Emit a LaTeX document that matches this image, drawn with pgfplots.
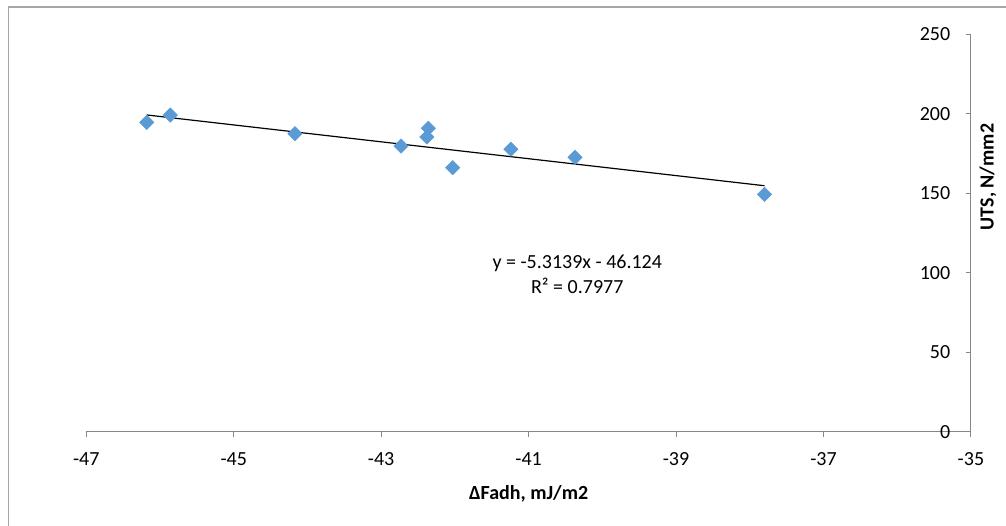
\documentclass[border=0pt]{standalone}
\usepackage{pgfplots}
\pgfplotsset{compat=1.18}
\usepackage{fontspec}
\setmainfont{Carlito}
\newcommand\ff{\fontsize{15}{18.75}\selectfont}
\definecolor{ptblue}{HTML}{5B9BD5}
\definecolor{axgray}{HTML}{868686}
\definecolor{bordgray}{HTML}{A6A6A6}
\pgfplotstableread{
x y
-46.18 194.6
-45.86 199.2
-44.17 187.5
-42.73 179.7
-42.36 190.9
-42.38 185.4
-42.03 166.1
-41.24 177.7
-40.37 172.6
-37.80 149.3
}\datatable
\begin{document}
\begin{tikzpicture}
\useasboundingbox (0,0) rectangle (754.5pt,393.75pt);
\draw[bordgray, line width=1.1pt] (6.4pt,-1pt) -- (6.4pt,388.5pt) -- (756pt,388.5pt);
\begin{axis}[
  at={(64.7pt,70pt)}, anchor=south west,
  scale only axis, width=663.5pt, height=298pt,
  xmin=-47, xmax=-35, ymin=0, ymax=250,
  axis x line*=bottom, axis y line*=right,
  axis line style={axgray, line width=0.75pt},
  every axis x line/.append style={-},
  every axis y line/.append style={-},
  xtick={-47,-45,...,-35}, ytick={0,50,...,250},
  major tick length=3.75pt,
  x tick style={axgray, line width=0.75pt},
  y tick style={axgray, line width=0.75pt},
  xtick align=outside, ytick align=inside,
  tick label style={font=\ff},
  /pgf/number format/assume math mode=true,
  xticklabel style={anchor=north, yshift=-8.5pt},
  yticklabel style={anchor=east, xshift=-12pt},
  clip=false,
]
\addplot[only marks, mark=square*, mark size=3.8pt, mark options={rotate=45, fill=ptblue, draw=ptblue}] table[x=x,y=y] {\datatable};
\addplot[black, line width=0.9pt, no marks] coordinates {(-46.18,199.27) (-37.80,154.74)};
\node[align=center, font=\ff] at (axis cs:-40.34,99.2) {y = -5.3139x - 46.124\\R² = 0.7977};
\node[font=\ff\bfseries] at (axis description cs:0.5,-0.157) {ΔFadh, mJ/m2};
\node[font=\ff\bfseries, rotate=90] at (axis description cs:1.0192,0.641) {UTS, N/mm2};
\end{axis}
\end{tikzpicture}
\end{document}
